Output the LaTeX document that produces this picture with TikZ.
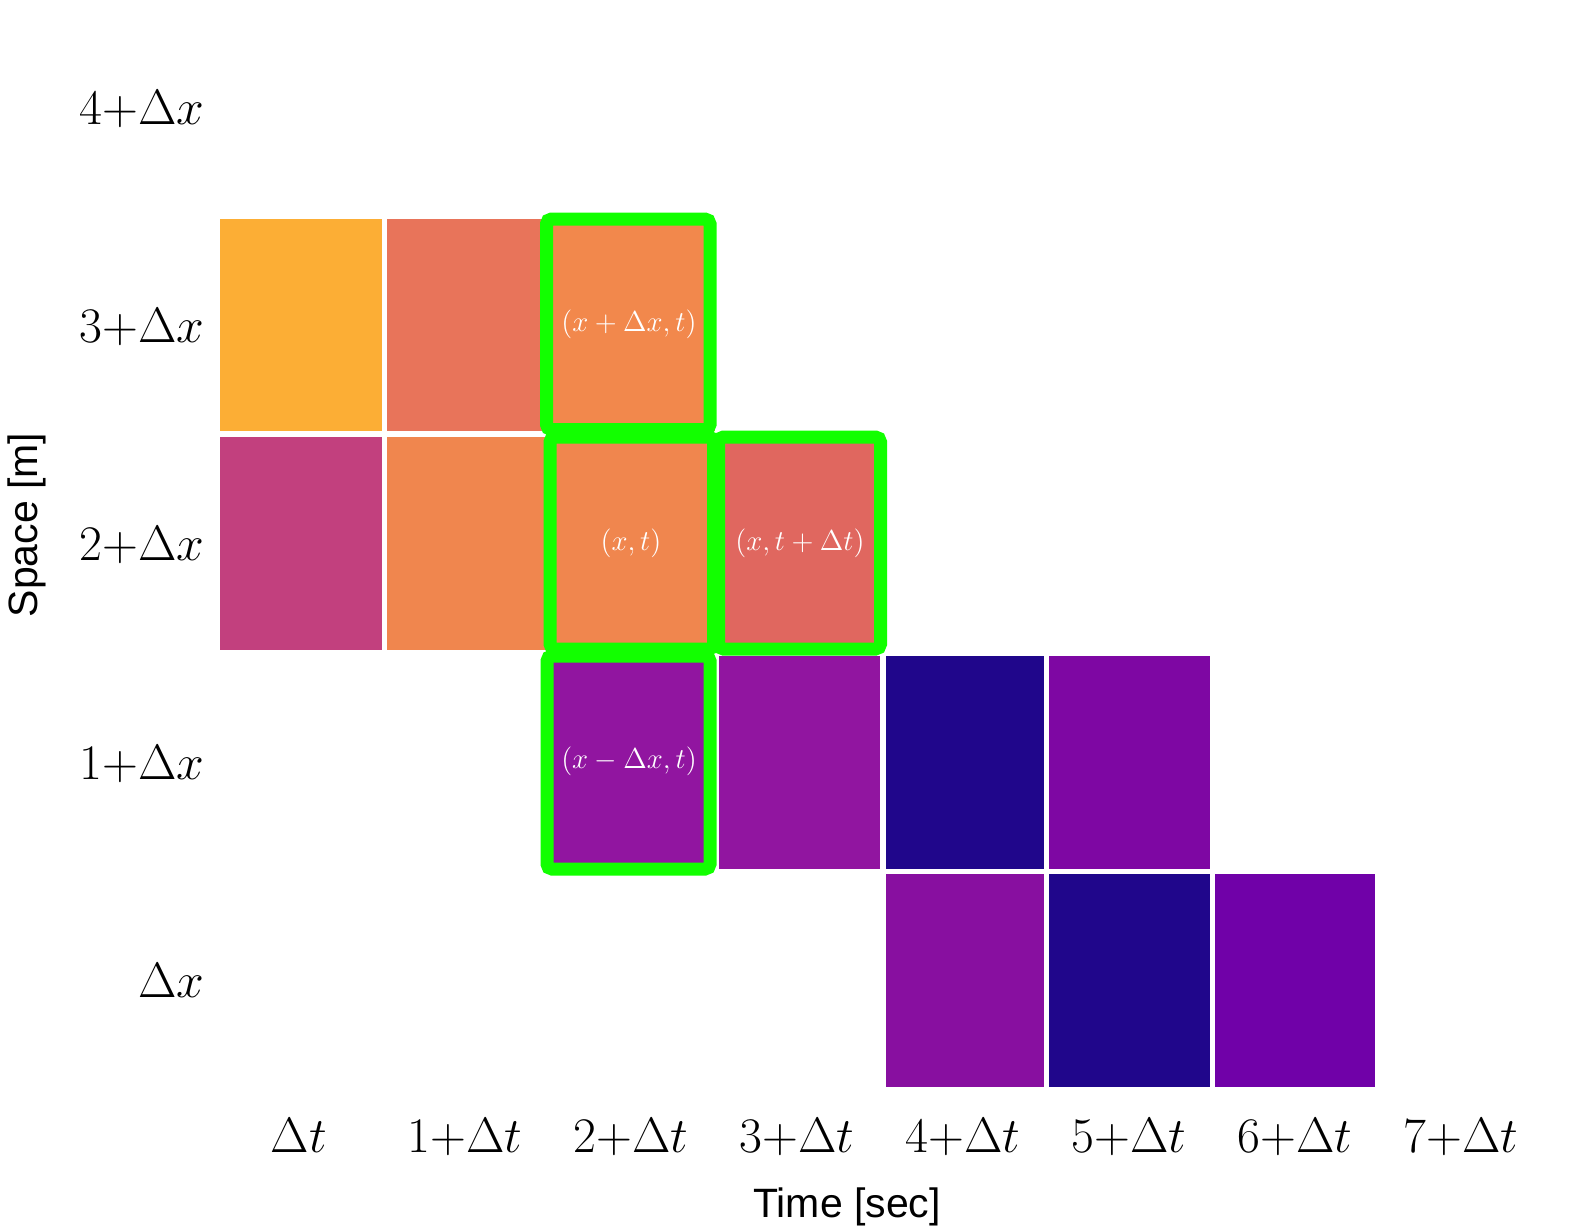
\documentclass[tikz,border=0pt]{standalone}
\usepackage{fontspec}
\newfontfamily\axisfont{Liberation Sans}
\usetikzlibrary{fit}
\definecolor{cYel}{HTML}{FCAE35}
\definecolor{cSal}{HTML}{E8745A}
\definecolor{cOrA}{HTML}{F2884C}
\definecolor{cMag}{HTML}{C2407E}
\definecolor{cOrB}{HTML}{F0864E}
\definecolor{cRed}{HTML}{E0675F}
\definecolor{cPur}{HTML}{9115A0}
\definecolor{cNav}{HTML}{20068B}
\definecolor{cVio}{HTML}{7E07A3}
\definecolor{cPuB}{HTML}{880FA0}
\definecolor{cViB}{HTML}{7001A8}
\definecolor{hlgreen}{HTML}{12FF00}
\tikzset{
  cell/.style={rectangle, draw=none, inner sep=0pt, outer sep=0pt},
  hlbox/.style={draw=hlgreen, line width=6.5pt, rounded corners=2.5pt},
  celllab/.style={text=white, font=\fontsize{15}{18}\selectfont, inner sep=0pt},
  ticklab/.style={font=\fontsize{24}{28}\selectfont, inner sep=0pt},
  axislab/.style={font=\axisfont\fontsize{20.5}{24}\selectfont, inner sep=0pt},
}
\begin{document}
\begin{tikzpicture}[x=0.5pt, y=-0.5pt]
\useasboundingbox[fill=white] (0,0) rectangle (1591,1227);
% row 3
\node[cell, fill=cYel, fit={(220,219) (381.5,431)}] (c03) {};
\node[cell, fill=cSal, fit={(387,219) (549,431)}] (c13) {};
\node[cell, fill=cOrA, fit={(553,219) (715,431)}] (c23) {};
% row 2
\node[cell, fill=cMag, fit={(220,437) (381.5,650)}] (c02) {};
\node[cell, fill=cOrB, fit={(387,437) (549,650)}] (c12) {};
\node[cell, fill=cOrB, fit={(553,437) (715,650)}] (c22) {};
\node[cell, fill=cRed, fit={(719,437) (880,650)}] (c32) {};
% row 1
\node[cell, fill=cPur, fit={(553,656) (715,869)}] (c21) {};
\node[cell, fill=cPur, fit={(719,656) (880,869)}] (c31) {};
\node[cell, fill=cNav, fit={(886,656) (1044,869)}] (c41) {};
\node[cell, fill=cVio, fit={(1049,656) (1210,869)}] (c51) {};
% row 0
\node[cell, fill=cPuB, fit={(886,874) (1044,1087)}] (c40) {};
\node[cell, fill=cNav, fit={(1049,874) (1210,1087)}] (c50) {};
\node[cell, fill=cViB, fit={(1215,874) (1375,1087)}] (c60) {};
% highlight boxes
\draw[hlbox] (546.5,219) rectangle (710,429.5);
\draw[hlbox] (547,656) rectangle (710,869);
\draw[hlbox] (550,437) rectangle (713.5,649);
\draw[hlbox] (718.5,437) rectangle (880.5,649);
% cell labels
\node[celllab] (l23) at (629,324) {$(x+\Delta x,t)$};
\node[celllab] (l22) at (631,543) {$(x,t)$};
\node[celllab] (l32) at (800,543) {$(x,t+\Delta t)$};
\node[celllab] (l21) at (629,761) {$(x-\Delta x,t)$};
% y tick labels
\node[ticklab, anchor=base east] (y4) at (205,124) {$4{+}\Delta x$};
\node[ticklab, anchor=base east] (y3) at (205,342) {$3{+}\Delta x$};
\node[ticklab, anchor=base east] (y2) at (205,560) {$2{+}\Delta x$};
\node[ticklab, anchor=base east] (y1) at (205,779) {$1{+}\Delta x$};
\node[ticklab, anchor=base east] (y0) at (205,997) {$\Delta x$};
% x tick labels
\node[ticklab, anchor=base] (x0) at (299,1152) {$\Delta t$};
\node[ticklab, anchor=base] (x1) at (465,1152) {$1{+}\Delta t$};
\node[ticklab, anchor=base] (x2) at (631,1152) {$2{+}\Delta t$};
\node[ticklab, anchor=base] (x3) at (797,1152) {$3{+}\Delta t$};
\node[ticklab, anchor=base] (x4) at (963,1152) {$4{+}\Delta t$};
\node[ticklab, anchor=base] (x5) at (1129,1152) {$5{+}\Delta t$};
\node[ticklab, anchor=base] (x6) at (1295,1152) {$6{+}\Delta t$};
\node[ticklab, anchor=base] (x7) at (1461,1152) {$7{+}\Delta t$};
% axis titles
\node[axislab] (xt) at (847,1207) {Time [sec]};
\node[axislab, rotate=90] (yt) at (27,525) {Space [m]};
\end{tikzpicture}
\end{document}
